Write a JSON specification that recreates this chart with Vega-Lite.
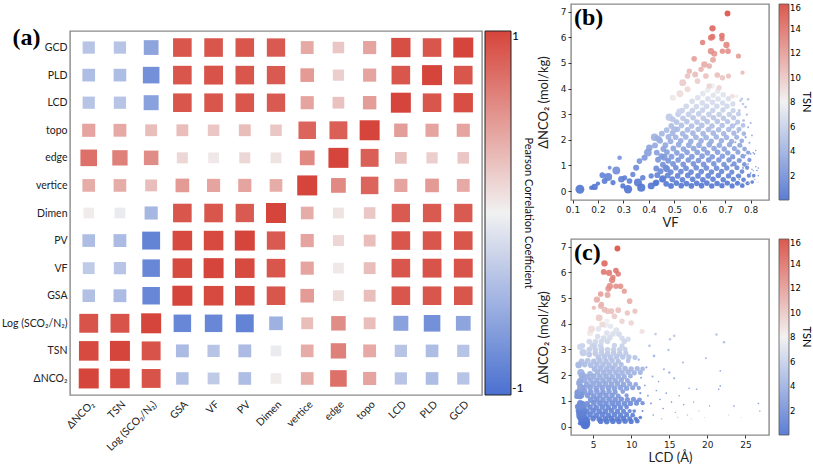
{
"$schema":"https://vega.github.io/schema/vega-lite/v6.json",
"padding":{"left":0,"top":3,"right":0,"bottom":0},
"background":"white",
"config":{"view":{"stroke":"#8a8a8a","strokeWidth":1.4},"font":"Lato","axis":{"labelColor":"#222","titleColor":"#222","tickColor":"#333","labelOverlap":false}},
"spacing":0,
"resolve":{"scale":{"color":"independent","size":"independent"},"legend":{"color":"independent","size":"independent"}},
"datasets":{
"corr":[
{"col":"ΔNCO₂","row":"GCD","r":-0.35},{"col":"TSN","row":"GCD","r":-0.35},{"col":"Log (SCO₂/N₂)","row":"GCD","r":-0.6},{"col":"GSA","row":"GCD","r":0.9},{"col":"VF","row":"GCD","r":0.9},{"col":"PV","row":"GCD","r":0.9},{"col":"Dimen","row":"GCD","r":0.88},{"col":"vertice","row":"GCD","r":0.42},{"col":"edge","row":"GCD","r":0.25},{"col":"topo","row":"GCD","r":0.45},{"col":"LCD","row":"GCD","r":0.95},{"col":"PLD","row":"GCD","r":0.9},{"col":"GCD","row":"GCD","r":1.0},
{"col":"ΔNCO₂","row":"PLD","r":-0.4},{"col":"TSN","row":"PLD","r":-0.4},{"col":"Log (SCO₂/N₂)","row":"PLD","r":-0.75},{"col":"GSA","row":"PLD","r":0.9},{"col":"VF","row":"PLD","r":0.92},{"col":"PV","row":"PLD","r":0.9},{"col":"Dimen","row":"PLD","r":0.88},{"col":"vertice","row":"PLD","r":0.5},{"col":"edge","row":"PLD","r":0.2},{"col":"topo","row":"PLD","r":0.45},{"col":"LCD","row":"PLD","r":0.9},{"col":"PLD","row":"PLD","r":1.0},{"col":"GCD","row":"PLD","r":0.9},
{"col":"ΔNCO₂","row":"LCD","r":-0.35},{"col":"TSN","row":"LCD","r":-0.35},{"col":"Log (SCO₂/N₂)","row":"LCD","r":-0.62},{"col":"GSA","row":"LCD","r":0.9},{"col":"VF","row":"LCD","r":0.9},{"col":"PV","row":"LCD","r":0.9},{"col":"Dimen","row":"LCD","r":0.88},{"col":"vertice","row":"LCD","r":0.45},{"col":"edge","row":"LCD","r":0.28},{"col":"topo","row":"LCD","r":0.48},{"col":"LCD","row":"LCD","r":1.0},{"col":"PLD","row":"LCD","r":0.9},{"col":"GCD","row":"LCD","r":0.95},
{"col":"ΔNCO₂","row":"topo","r":0.45},{"col":"TSN","row":"topo","r":0.42},{"col":"Log (SCO₂/N₂)","row":"topo","r":0.3},{"col":"GSA","row":"topo","r":0.3},{"col":"VF","row":"topo","r":0.25},{"col":"PV","row":"topo","r":0.3},{"col":"Dimen","row":"topo","r":0.25},{"col":"vertice","row":"topo","r":0.82},{"col":"edge","row":"topo","r":0.85},{"col":"topo","row":"topo","r":1.0},{"col":"LCD","row":"topo","r":0.48},{"col":"PLD","row":"topo","r":0.45},{"col":"GCD","row":"topo","r":0.45},
{"col":"ΔNCO₂","row":"edge","r":0.75},{"col":"TSN","row":"edge","r":0.65},{"col":"Log (SCO₂/N₂)","row":"edge","r":0.58},{"col":"GSA","row":"edge","r":0.15},{"col":"VF","row":"edge","r":0.05},{"col":"PV","row":"edge","r":0.15},{"col":"Dimen","row":"edge","r":0.08},{"col":"vertice","row":"edge","r":0.6},{"col":"edge","row":"edge","r":1.0},{"col":"topo","row":"edge","r":0.85},{"col":"LCD","row":"edge","r":0.28},{"col":"PLD","row":"edge","r":0.2},{"col":"GCD","row":"edge","r":0.25},
{"col":"ΔNCO₂","row":"vertice","r":0.4},{"col":"TSN","row":"vertice","r":0.4},{"col":"Log (SCO₂/N₂)","row":"vertice","r":0.3},{"col":"GSA","row":"vertice","r":0.5},{"col":"VF","row":"vertice","r":0.45},{"col":"PV","row":"vertice","r":0.45},{"col":"Dimen","row":"vertice","r":0.4},{"col":"vertice","row":"vertice","r":1.0},{"col":"edge","row":"vertice","r":0.6},{"col":"topo","row":"vertice","r":0.82},{"col":"LCD","row":"vertice","r":0.45},{"col":"PLD","row":"vertice","r":0.5},{"col":"GCD","row":"vertice","r":0.42},
{"col":"ΔNCO₂","row":"Dimen","r":0.03},{"col":"TSN","row":"Dimen","r":-0.05},{"col":"Log (SCO₂/N₂)","row":"Dimen","r":-0.45},{"col":"GSA","row":"Dimen","r":0.9},{"col":"VF","row":"Dimen","r":0.9},{"col":"PV","row":"Dimen","r":0.88},{"col":"Dimen","row":"Dimen","r":1.0},{"col":"vertice","row":"Dimen","r":0.4},{"col":"edge","row":"Dimen","r":0.08},{"col":"topo","row":"Dimen","r":0.25},{"col":"LCD","row":"Dimen","r":0.88},{"col":"PLD","row":"Dimen","r":0.88},{"col":"GCD","row":"Dimen","r":0.88},
{"col":"ΔNCO₂","row":"PV","r":-0.4},{"col":"TSN","row":"PV","r":-0.42},{"col":"Log (SCO₂/N₂)","row":"PV","r":-0.85},{"col":"GSA","row":"PV","r":0.97},{"col":"VF","row":"PV","r":0.97},{"col":"PV","row":"PV","r":1.0},{"col":"Dimen","row":"PV","r":0.88},{"col":"vertice","row":"PV","r":0.45},{"col":"edge","row":"PV","r":0.15},{"col":"topo","row":"PV","r":0.3},{"col":"LCD","row":"PV","r":0.9},{"col":"PLD","row":"PV","r":0.9},{"col":"GCD","row":"PV","r":0.9},
{"col":"ΔNCO₂","row":"VF","r":-0.3},{"col":"TSN","row":"VF","r":-0.35},{"col":"Log (SCO₂/N₂)","row":"VF","r":-0.82},{"col":"GSA","row":"VF","r":0.97},{"col":"VF","row":"VF","r":1.0},{"col":"PV","row":"VF","r":0.97},{"col":"Dimen","row":"VF","r":0.9},{"col":"vertice","row":"VF","r":0.45},{"col":"edge","row":"VF","r":0.05},{"col":"topo","row":"VF","r":0.3},{"col":"LCD","row":"VF","r":0.9},{"col":"PLD","row":"VF","r":0.92},{"col":"GCD","row":"VF","r":0.92},
{"col":"ΔNCO₂","row":"GSA","r":-0.38},{"col":"TSN","row":"GSA","r":-0.42},{"col":"Log (SCO₂/N₂)","row":"GSA","r":-0.82},{"col":"GSA","row":"GSA","r":1.0},{"col":"VF","row":"GSA","r":0.97},{"col":"PV","row":"GSA","r":0.97},{"col":"Dimen","row":"GSA","r":0.9},{"col":"vertice","row":"GSA","r":0.5},{"col":"edge","row":"GSA","r":0.12},{"col":"topo","row":"GSA","r":0.3},{"col":"LCD","row":"GSA","r":0.9},{"col":"PLD","row":"GSA","r":0.9},{"col":"GCD","row":"GSA","r":0.9},
{"col":"ΔNCO₂","row":"Log (SCO₂/N₂)","r":0.92},{"col":"TSN","row":"Log (SCO₂/N₂)","r":0.92},{"col":"Log (SCO₂/N₂)","row":"Log (SCO₂/N₂)","r":1.0},{"col":"GSA","row":"Log (SCO₂/N₂)","r":-0.82},{"col":"VF","row":"Log (SCO₂/N₂)","r":-0.82},{"col":"PV","row":"Log (SCO₂/N₂)","r":-0.85},{"col":"Dimen","row":"Log (SCO₂/N₂)","r":-0.5},{"col":"vertice","row":"Log (SCO₂/N₂)","r":0.3},{"col":"edge","row":"Log (SCO₂/N₂)","r":0.58},{"col":"topo","row":"Log (SCO₂/N₂)","r":0.3},{"col":"LCD","row":"Log (SCO₂/N₂)","r":-0.62},{"col":"PLD","row":"Log (SCO₂/N₂)","r":-0.75},{"col":"GCD","row":"Log (SCO₂/N₂)","r":-0.6},
{"col":"ΔNCO₂","row":"TSN","r":0.97},{"col":"TSN","row":"TSN","r":1.0},{"col":"Log (SCO₂/N₂)","row":"TSN","r":0.92},{"col":"GSA","row":"TSN","r":-0.42},{"col":"VF","row":"TSN","r":-0.35},{"col":"PV","row":"TSN","r":-0.42},{"col":"Dimen","row":"TSN","r":-0.05},{"col":"vertice","row":"TSN","r":0.4},{"col":"edge","row":"TSN","r":0.65},{"col":"topo","row":"TSN","r":0.42},{"col":"LCD","row":"TSN","r":-0.35},{"col":"PLD","row":"TSN","r":-0.4},{"col":"GCD","row":"TSN","r":-0.35},
{"col":"ΔNCO₂","row":"ΔNCO₂","r":1.0},{"col":"TSN","row":"ΔNCO₂","r":0.97},{"col":"Log (SCO₂/N₂)","row":"ΔNCO₂","r":0.92},{"col":"GSA","row":"ΔNCO₂","r":-0.38},{"col":"VF","row":"ΔNCO₂","r":-0.3},{"col":"PV","row":"ΔNCO₂","r":-0.4},{"col":"Dimen","row":"ΔNCO₂","r":0.03},{"col":"vertice","row":"ΔNCO₂","r":0.4},{"col":"edge","row":"ΔNCO₂","r":0.75},{"col":"topo","row":"ΔNCO₂","r":0.45},{"col":"LCD","row":"ΔNCO₂","r":-0.35},{"col":"PLD","row":"ΔNCO₂","r":-0.4},{"col":"GCD","row":"ΔNCO₂","r":-0.35}
],
"mofs":[
{"v":0.129,"l":4.0,"n":0.07,"t":0.3,"s":3.0},{"v":0.187,"l":3.6,"n":0.16,"t":0.4,"s":1.5},{"v":0.174,"l":3.3,"n":0.13,"t":0.3,"s":0.8},{"v":0.217,"l":3.4,"n":0.62,"t":1.2,"s":1.2},{"v":0.226,"l":3.2,"n":0.39,"t":0.8,"s":1.3},{"v":0.24,"l":3.3,"n":0.55,"t":1.2,"s":2.4},{"v":0.259,"l":3.5,"n":0.33,"t":0.7,"s":1.0},{"v":0.272,"l":3.3,"n":0.8,"t":1.8,"s":2.3},{"v":0.285,"l":3.6,"n":1.3,"t":2.2,"s":0.8},{"v":0.292,"l":3.4,"n":0.46,"t":0.9,"s":1.6},{"v":0.305,"l":3.7,"n":0.52,"t":1.0,"s":1.0},{"v":0.318,"l":3.9,"n":0.07,"t":0.2,"s":2.6},{"v":0.324,"l":3.5,"n":0.39,"t":0.8,"s":1.2},{"v":0.337,"l":3.8,"n":0.65,"t":1.3,"s":1.0},{"v":0.35,"l":3.3,"n":0.91,"t":1.7,"s":1.4},{"v":0.357,"l":3.5,"n":0.33,"t":0.6,"s":2.4},{"v":0.37,"l":4.1,"n":0.13,"t":0.3,"s":2.5},{"v":0.363,"l":3.3,"n":1.17,"t":2.1,"s":1.2},{"v":0.383,"l":3.0,"n":1.3,"t":2.4,"s":1.4},{"v":0.396,"l":3.4,"n":1.5,"t":3.0,"s":2.3},{"v":0.402,"l":3.2,"n":1.69,"t":3.1,"s":1.6},{"v":0.422,"l":3.4,"n":2.1,"t":3.9,"s":2.0},{"v":0.44,"l":3.7,"n":2.0,"t":3.6,"s":1.3},{"v":0.376,"l":3.6,"n":0.52,"t":1.0,"s":1.1},{"v":0.409,"l":3.9,"n":0.59,"t":1.1,"s":1.0},{"v":0.246,"l":3.7,"n":0.91,"t":1.8,"s":0.6},{"v":0.2,"l":3.5,"n":0.29,"t":0.5,"s":0.7},{"v":0.298,"l":3.8,"n":0.2,"t":0.4,"s":1.0},{"v":0.409,"l":4.1,"n":0.2,"t":0.4,"s":1.8},{"v":0.429,"l":3.9,"n":0.33,"t":0.6,"s":1.5},{"v":0.46,"l":3.0,"n":1.32,"t":2.4,"s":1.8},{"v":0.48,"l":3.7,"n":2.88,"t":5.6,"s":2.0},{"v":0.455,"l":3.26,"n":0.48,"t":0.9,"s":1.8},{"v":0.47,"l":3.48,"n":0.87,"t":1.6,"s":1.7},{"v":0.5,"l":3.1,"n":2.4,"t":4.6,"s":1.6},{"v":0.52,"l":3.3,"n":3.1,"t":6.2,"s":1.5},
{"v":0.709,"l":8.2,"n":6.93,"t":15.6,"s":1.3},{"v":0.65,"l":6.5,"n":6.35,"t":14.5,"s":1.5},{"v":0.65,"l":6.4,"n":6.02,"t":13.8,"s":1.3},{"v":0.644,"l":7.1,"n":5.98,"t":13.6,"s":1.4},{"v":0.687,"l":8.0,"n":6.07,"t":13.9,"s":1.2},{"v":0.687,"l":8.3,"n":5.94,"t":13.5,"s":1.1},{"v":0.611,"l":7.6,"n":5.8,"t":13.2,"s":1.1},{"v":0.705,"l":7.5,"n":5.7,"t":13.0,"s":1.5},{"v":0.644,"l":7.2,"n":5.46,"t":12.6,"s":1.5},{"v":0.657,"l":7.0,"n":5.36,"t":12.3,"s":1.4},{"v":0.689,"l":8.0,"n":5.46,"t":12.5,"s":1.1},{"v":0.711,"l":8.6,"n":5.46,"t":12.5,"s":1.2},{"v":0.752,"l":9.1,"n":5.27,"t":12.0,"s":1.0},{"v":0.578,"l":6.0,"n":5.16,"t":11.8,"s":1.2},{"v":0.652,"l":6.9,"n":5.12,"t":11.6,"s":1.3},{"v":0.618,"l":5.5,"n":4.94,"t":11.3,"s":1.5},{"v":0.637,"l":9.8,"n":4.88,"t":11.1,"s":1.2},{"v":0.605,"l":6.1,"n":4.75,"t":10.9,"s":1.1},{"v":0.582,"l":6.5,"n":4.55,"t":10.5,"s":1.3},{"v":0.624,"l":7.4,"n":4.49,"t":10.3,"s":1.2},{"v":0.669,"l":8.3,"n":4.53,"t":10.4,"s":1.2},{"v":0.689,"l":9.5,"n":4.42,"t":10.1,"s":1.1},{"v":0.713,"l":10.5,"n":4.49,"t":10.2,"s":1.0},{"v":0.768,"l":5.1,"n":4.62,"t":10.6,"s":0.7},{"v":0.552,"l":6.9,"n":4.49,"t":10.2,"s":1.2},{"v":0.533,"l":5.8,"n":4.23,"t":9.8,"s":1.8},{"v":0.522,"l":4.8,"n":3.8,"t":9.0,"s":1.8},{"v":0.552,"l":6.2,"n":3.97,"t":9.2,"s":1.3},{"v":0.591,"l":7.8,"n":4.29,"t":9.8,"s":1.2},{"v":0.637,"l":8.8,"n":4.1,"t":9.4,"s":1.1},{"v":0.676,"l":10.0,"n":4.03,"t":9.3,"s":1.1},{"v":0.559,"l":6.0,"n":4.68,"t":10.7,"s":1.1},{"v":0.494,"l":4.6,"n":3.64,"t":8.5,"s":1.4},{"v":0.728,"l":11.4,"n":3.7,"t":8.8,"s":0.9},
{"v":0.765,"l":13.2,"n":3.6,"t":5.6,"s":0.3},{"v":0.77,"l":15.1,"n":3.4,"t":5.2,"s":0.25},{"v":0.76,"l":15.65,"n":3.53,"t":5.4,"s":0.3},{"v":0.79,"l":21.2,"n":3.58,"t":5.1,"s":0.25},{"v":0.78,"l":22.2,"n":3.28,"t":4.7,"s":0.25},{"v":0.755,"l":12.4,"n":3.14,"t":5.0,"s":0.3},{"v":0.745,"l":11.6,"n":3.7,"t":8.2,"s":0.5},{"v":0.772,"l":13.0,"n":2.75,"t":4.1,"s":0.25},{"v":0.785,"l":14.9,"n":2.98,"t":4.4,"s":0.2},{"v":0.79,"l":16.8,"n":2.49,"t":3.6,"s":0.15},{"v":0.8,"l":19.8,"n":2.66,"t":3.9,"s":0.15},{"v":0.805,"l":21.7,"n":2.17,"t":3.1,"s":0.12},{"v":0.78,"l":15.0,"n":2.1,"t":3.1,"s":0.2},{"v":0.795,"l":15.65,"n":1.88,"t":2.8,"s":0.15},{"v":0.775,"l":14.3,"n":2.23,"t":3.3,"s":0.15},{"v":0.81,"l":17.6,"n":1.49,"t":2.2,"s":0.1},{"v":0.8,"l":18.6,"n":1.45,"t":2.2,"s":0.1},{"v":0.815,"l":21.5,"n":1.45,"t":2.0,"s":0.1},{"v":0.82,"l":21.7,"n":1.58,"t":2.3,"s":0.1},{"v":0.825,"l":23.5,"n":0.8,"t":1.3,"s":0.1},{"v":0.83,"l":26.7,"n":0.9,"t":1.4,"s":0.08},{"v":0.83,"l":26.9,"n":0.6,"t":1.0,"s":0.08},
{"v":0.74,"l":11.3,"n":1.9,"t":3.0,"s":0.15},{"v":0.75,"l":11.8,"n":1.6,"t":2.6,"s":0.12},{"v":0.76,"l":12.2,"n":1.2,"t":2.0,"s":0.12},{"v":0.77,"l":12.6,"n":0.9,"t":1.5,"s":0.12},{"v":0.745,"l":11.5,"n":0.6,"t":1.1,"s":0.15},{"v":0.755,"l":12.9,"n":0.45,"t":1.8,"s":0.1},{"v":0.78,"l":13.3,"n":1.4,"t":2.2,"s":0.1},{"v":0.79,"l":13.8,"n":1.05,"t":1.8,"s":0.1},{"v":0.8,"l":14.2,"n":0.7,"t":1.3,"s":0.1},{"v":0.765,"l":13.6,"n":1.75,"t":2.8,"s":0.1},{"v":0.775,"l":14.6,"n":1.3,"t":2.1,"s":0.1},{"v":0.785,"l":15.3,"n":0.95,"t":1.7,"s":0.1},{"v":0.81,"l":15.8,"n":0.55,"t":3.5,"s":0.08},{"v":0.795,"l":16.3,"n":1.2,"t":2.0,"s":0.08},{"v":0.805,"l":16.9,"n":0.85,"t":1.5,"s":0.08},{"v":0.815,"l":17.4,"n":0.45,"t":4.5,"s":0.08},{"v":0.82,"l":18.2,"n":0.95,"t":1.7,"s":0.08},{"v":0.8,"l":18.9,"n":0.6,"t":5.0,"s":0.08},{"v":0.825,"l":19.6,"n":0.35,"t":6.0,"s":0.06},{"v":0.81,"l":20.3,"n":0.8,"t":1.5,"s":0.06},{"v":0.82,"l":22.8,"n":0.45,"t":6.0,"s":0.06},{"v":0.83,"l":24.4,"n":0.35,"t":6.5,"s":0.06},{"v":0.79,"l":17.9,"n":0.3,"t":6.0,"s":0.06},{"v":0.775,"l":16.1,"n":0.35,"t":5.5,"s":0.08},{"v":0.76,"l":14.0,"n":0.3,"t":5.0,"s":0.1},{"v":0.75,"l":12.0,"n":2.3,"t":3.6,"s":0.2},{"v":0.765,"l":12.8,"n":1.95,"t":3.2,"s":0.15},{"v":0.74,"l":11.0,"n":2.6,"t":4.2,"s":0.2},{"v":0.735,"l":11.2,"n":1.3,"t":2.2,"s":0.2},{"v":0.725,"l":10.8,"n":1.0,"t":1.8,"s":0.3},
{"v":0.426,"l":3.4,"n":0.3,"t":0.6,"s":1.3},{"v":0.433,"l":3.1,"n":0.62,"t":1.2,"s":1.3},{"v":0.429,"l":4.2,"n":0.88,"t":1.7,"s":1.3},{"v":0.436,"l":3.0,"n":1.22,"t":2.3,"s":1.3},{"v":0.431,"l":3.8,"n":1.5,"t":2.9,"s":1.3},{"v":0.424,"l":3.3,"n":1.78,"t":3.4,"s":1.3},{"v":0.435,"l":4.6,"n":2.05,"t":3.9,"s":1.3},
{"v":0.452,"l":3.8,"n":0.45,"t":0.9,"s":1.3},{"v":0.446,"l":3.0,"n":0.77,"t":1.5,"s":1.3},{"v":0.455,"l":4.7,"n":1.03,"t":2.0,"s":1.3},{"v":0.449,"l":3.2,"n":1.36,"t":2.6,"s":1.3},{"v":0.457,"l":4.2,"n":1.64,"t":3.1,"s":1.3},{"v":0.444,"l":3.5,"n":1.96,"t":3.7,"s":1.3},{"v":0.451,"l":5.2,"n":2.24,"t":4.3,"s":1.3},
{"v":0.468,"l":4.2,"n":0.28,"t":0.5,"s":1.25},{"v":0.474,"l":3.4,"n":0.61,"t":1.2,"s":1.25},{"v":0.466,"l":5.1,"n":0.92,"t":1.8,"s":1.25},{"v":0.476,"l":2.9,"n":1.18,"t":2.2,"s":1.25},{"v":0.471,"l":4.6,"n":1.52,"t":2.9,"s":1.25},{"v":0.465,"l":3.9,"n":1.79,"t":3.4,"s":1.25},{"v":0.477,"l":5.6,"n":2.11,"t":4.0,"s":1.25},{"v":0.47,"l":3.1,"n":2.38,"t":4.5,"s":1.25},
{"v":0.487,"l":4.0,"n":0.2,"t":0.3,"s":1.25},{"v":0.492,"l":4.6,"n":0.46,"t":0.9,"s":1.25},{"v":0.486,"l":3.8,"n":0.74,"t":1.4,"s":1.25},{"v":0.495,"l":5.5,"n":1.06,"t":2.0,"s":1.25},{"v":0.489,"l":3.1,"n":1.34,"t":2.6,"s":1.25},{"v":0.496,"l":5.0,"n":1.66,"t":3.2,"s":1.25},{"v":0.485,"l":4.3,"n":1.94,"t":3.7,"s":1.25},{"v":0.493,"l":6.0,"n":2.26,"t":4.3,"s":1.25},{"v":0.488,"l":3.5,"n":2.54,"t":4.8,"s":1.25},{"v":0.494,"l":4.5,"n":2.8,"t":5.3,"s":1.25},
{"v":0.508,"l":5.0,"n":0.31,"t":0.6,"s":1.2},{"v":0.513,"l":4.2,"n":0.59,"t":1.1,"s":1.2},{"v":0.506,"l":5.9,"n":0.91,"t":1.7,"s":1.2},{"v":0.515,"l":3.5,"n":1.21,"t":2.3,"s":1.2},{"v":0.51,"l":5.4,"n":1.49,"t":2.8,"s":1.2},{"v":0.517,"l":4.7,"n":1.81,"t":3.4,"s":1.2},{"v":0.505,"l":6.4,"n":2.1,"t":4.0,"s":1.2},{"v":0.512,"l":3.9,"n":2.41,"t":4.6,"s":1.2},{"v":0.509,"l":5.7,"n":2.69,"t":5.1,"s":1.2},{"v":0.515,"l":4.5,"n":3.0,"t":5.7,"s":1.2},
{"v":0.527,"l":6.0,"n":0.21,"t":0.4,"s":1.2},{"v":0.532,"l":5.4,"n":0.44,"t":0.8,"s":1.2},{"v":0.526,"l":4.6,"n":0.76,"t":1.4,"s":1.2},{"v":0.535,"l":6.3,"n":1.04,"t":2.0,"s":1.2},{"v":0.529,"l":3.9,"n":1.36,"t":2.6,"s":1.2},{"v":0.536,"l":5.8,"n":1.64,"t":3.1,"s":1.2},{"v":0.525,"l":5.1,"n":1.96,"t":3.7,"s":1.2},{"v":0.533,"l":6.8,"n":2.24,"t":4.3,"s":1.2},{"v":0.528,"l":4.3,"n":2.56,"t":4.9,"s":1.2},{"v":0.534,"l":5.3,"n":2.84,"t":5.4,"s":1.2},{"v":0.531,"l":3.6,"n":3.14,"t":6.0,"s":1.2},
{"v":0.548,"l":5.8,"n":0.29,"t":0.6,"s":1.2},{"v":0.553,"l":5.0,"n":0.61,"t":1.2,"s":1.2},{"v":0.546,"l":6.7,"n":0.89,"t":1.7,"s":1.2},{"v":0.555,"l":4.3,"n":1.21,"t":2.3,"s":1.2},{"v":0.55,"l":6.2,"n":1.51,"t":2.9,"s":1.2},{"v":0.557,"l":5.5,"n":1.79,"t":3.4,"s":1.2},{"v":0.545,"l":7.2,"n":2.11,"t":4.0,"s":1.2},{"v":0.552,"l":4.7,"n":2.39,"t":4.5,"s":1.2},{"v":0.549,"l":6.5,"n":2.71,"t":5.1,"s":1.2},{"v":0.556,"l":5.3,"n":2.99,"t":5.7,"s":1.2},{"v":0.547,"l":4.5,"n":3.31,"t":6.3,"s":1.2},
{"v":0.567,"l":6.8,"n":0.2,"t":0.4,"s":1.2},{"v":0.572,"l":6.2,"n":0.46,"t":0.9,"s":1.2},{"v":0.566,"l":5.4,"n":0.74,"t":1.4,"s":1.2},{"v":0.575,"l":7.1,"n":1.06,"t":2.0,"s":1.2},{"v":0.569,"l":4.7,"n":1.34,"t":2.5,"s":1.2},{"v":0.576,"l":6.6,"n":1.66,"t":3.2,"s":1.2},{"v":0.565,"l":5.9,"n":1.94,"t":3.7,"s":1.2},{"v":0.573,"l":7.6,"n":2.26,"t":4.3,"s":1.2},{"v":0.568,"l":5.1,"n":2.54,"t":4.8,"s":1.2},{"v":0.574,"l":6.1,"n":2.86,"t":5.4,"s":1.2},{"v":0.571,"l":4.9,"n":3.14,"t":6.0,"s":1.2},{"v":0.57,"l":5.6,"n":3.5,"t":6.7,"s":1.2},
{"v":0.588,"l":6.6,"n":0.3,"t":0.6,"s":1.2},{"v":0.593,"l":5.8,"n":0.59,"t":1.1,"s":1.2},{"v":0.586,"l":7.5,"n":0.91,"t":1.7,"s":1.2},{"v":0.595,"l":5.1,"n":1.19,"t":2.3,"s":1.2},{"v":0.59,"l":7.0,"n":1.51,"t":2.9,"s":1.2},{"v":0.597,"l":6.3,"n":1.79,"t":3.4,"s":1.2},{"v":0.585,"l":8.0,"n":2.1,"t":4.0,"s":1.2},{"v":0.594,"l":5.5,"n":2.41,"t":4.6,"s":1.2},{"v":0.589,"l":7.3,"n":2.69,"t":5.1,"s":1.2},{"v":0.596,"l":6.1,"n":3.01,"t":5.7,"s":1.2},{"v":0.587,"l":5.3,"n":3.3,"t":6.3,"s":1.2},{"v":0.592,"l":6.8,"n":3.64,"t":6.9,"s":1.2},
{"v":0.607,"l":7.6,"n":0.21,"t":0.4,"s":1.2},{"v":0.612,"l":7.0,"n":0.44,"t":0.8,"s":1.2},{"v":0.606,"l":6.2,"n":0.76,"t":1.4,"s":1.2},{"v":0.615,"l":7.9,"n":1.04,"t":2.0,"s":1.2},{"v":0.609,"l":5.5,"n":1.36,"t":2.6,"s":1.2},{"v":0.616,"l":7.4,"n":1.64,"t":3.1,"s":1.2},{"v":0.605,"l":6.7,"n":1.96,"t":3.7,"s":1.2},{"v":0.613,"l":8.4,"n":2.24,"t":4.3,"s":1.2},{"v":0.608,"l":5.9,"n":2.56,"t":4.9,"s":1.2},{"v":0.614,"l":6.9,"n":2.84,"t":5.4,"s":1.2},{"v":0.611,"l":5.2,"n":3.16,"t":6.0,"s":1.2},{"v":0.61,"l":6.4,"n":3.44,"t":6.5,"s":1.2},{"v":0.612,"l":5.7,"n":3.8,"t":7.2,"s":1.2},
{"v":0.628,"l":7.4,"n":0.31,"t":0.6,"s":1.2},{"v":0.633,"l":6.6,"n":0.59,"t":1.1,"s":1.2},{"v":0.626,"l":8.3,"n":0.9,"t":1.7,"s":1.2},{"v":0.635,"l":5.9,"n":1.21,"t":2.3,"s":1.2},{"v":0.63,"l":7.8,"n":1.49,"t":2.8,"s":1.2},{"v":0.637,"l":7.1,"n":1.81,"t":3.4,"s":1.2},{"v":0.625,"l":8.8,"n":2.09,"t":4.0,"s":1.2},{"v":0.634,"l":6.3,"n":2.4,"t":4.6,"s":1.2},{"v":0.629,"l":8.1,"n":2.71,"t":5.1,"s":1.2},{"v":0.636,"l":6.9,"n":2.99,"t":5.7,"s":1.2},{"v":0.627,"l":6.1,"n":3.31,"t":6.3,"s":1.2},{"v":0.632,"l":7.6,"n":3.6,"t":6.8,"s":1.2},{"v":0.631,"l":6.6,"n":3.95,"t":7.5,"s":1.2},
{"v":0.647,"l":8.4,"n":0.2,"t":0.4,"s":1.15},{"v":0.652,"l":7.8,"n":0.46,"t":0.9,"s":1.15},{"v":0.646,"l":7.0,"n":0.74,"t":1.4,"s":1.15},{"v":0.655,"l":8.7,"n":1.06,"t":2.0,"s":1.15},{"v":0.649,"l":6.3,"n":1.34,"t":2.5,"s":1.15},{"v":0.656,"l":8.2,"n":1.66,"t":3.2,"s":1.15},{"v":0.645,"l":7.5,"n":1.94,"t":3.7,"s":1.15},{"v":0.653,"l":9.2,"n":2.26,"t":4.3,"s":1.15},{"v":0.648,"l":6.7,"n":2.54,"t":4.8,"s":1.15},{"v":0.654,"l":7.7,"n":2.86,"t":5.4,"s":1.15},{"v":0.651,"l":6.0,"n":3.14,"t":6.0,"s":1.15},{"v":0.65,"l":7.2,"n":3.46,"t":6.6,"s":1.15},{"v":0.653,"l":8.0,"n":3.74,"t":7.1,"s":1.15},{"v":0.649,"l":6.8,"n":4.1,"t":7.8,"s":1.15},
{"v":0.668,"l":8.2,"n":0.29,"t":0.6,"s":1.15},{"v":0.673,"l":7.4,"n":0.61,"t":1.2,"s":1.15},{"v":0.666,"l":9.1,"n":0.89,"t":1.7,"s":1.15},{"v":0.675,"l":6.7,"n":1.21,"t":2.3,"s":1.15},{"v":0.67,"l":8.6,"n":1.51,"t":2.9,"s":1.15},{"v":0.677,"l":7.9,"n":1.79,"t":3.4,"s":1.15},{"v":0.665,"l":9.6,"n":2.11,"t":4.0,"s":1.15},{"v":0.674,"l":7.1,"n":2.39,"t":4.5,"s":1.15},{"v":0.669,"l":8.9,"n":2.71,"t":5.1,"s":1.15},{"v":0.676,"l":7.7,"n":2.99,"t":5.7,"s":1.15},{"v":0.667,"l":6.9,"n":3.31,"t":6.3,"s":1.15},{"v":0.672,"l":8.4,"n":3.59,"t":6.8,"s":1.15},{"v":0.67,"l":7.3,"n":3.9,"t":7.4,"s":1.15},
{"v":0.687,"l":9.2,"n":0.21,"t":0.4,"s":1.1},{"v":0.692,"l":8.6,"n":0.44,"t":0.8,"s":1.1},{"v":0.686,"l":7.8,"n":0.76,"t":1.4,"s":1.1},{"v":0.695,"l":9.5,"n":1.04,"t":2.0,"s":1.1},{"v":0.689,"l":7.1,"n":1.36,"t":2.6,"s":1.1},{"v":0.696,"l":9.0,"n":1.64,"t":3.1,"s":1.1},{"v":0.685,"l":8.3,"n":1.96,"t":3.7,"s":1.1},{"v":0.694,"l":10.0,"n":2.24,"t":4.3,"s":1.1},{"v":0.688,"l":7.5,"n":2.56,"t":4.9,"s":1.1},{"v":0.693,"l":8.5,"n":2.84,"t":5.4,"s":1.1},{"v":0.691,"l":7.8,"n":3.16,"t":6.0,"s":1.1},{"v":0.69,"l":8.8,"n":3.44,"t":6.5,"s":1.1},{"v":0.692,"l":8.1,"n":3.76,"t":7.1,"s":1.1},
{"v":0.708,"l":9.0,"n":0.31,"t":0.6,"s":1.1},{"v":0.713,"l":8.2,"n":0.59,"t":1.1,"s":1.1},{"v":0.706,"l":9.9,"n":0.9,"t":1.7,"s":1.1},{"v":0.715,"l":7.5,"n":1.21,"t":2.3,"s":1.1},{"v":0.71,"l":9.4,"n":1.49,"t":2.8,"s":1.1},{"v":0.717,"l":8.7,"n":1.81,"t":3.4,"s":1.1},{"v":0.705,"l":10.4,"n":2.09,"t":4.0,"s":1.1},{"v":0.714,"l":7.9,"n":2.4,"t":4.6,"s":1.1},{"v":0.709,"l":9.7,"n":2.71,"t":5.1,"s":1.1},{"v":0.716,"l":8.5,"n":2.99,"t":5.7,"s":1.1},{"v":0.707,"l":9.1,"n":3.31,"t":6.3,"s":1.1},{"v":0.712,"l":8.4,"n":3.6,"t":6.8,"s":1.1},
{"v":0.727,"l":10.0,"n":0.2,"t":0.4,"s":1.0},{"v":0.732,"l":9.4,"n":0.46,"t":0.9,"s":1.0},{"v":0.726,"l":8.6,"n":0.74,"t":1.4,"s":1.0},{"v":0.735,"l":10.3,"n":1.06,"t":2.0,"s":1.0},{"v":0.729,"l":7.9,"n":1.34,"t":2.5,"s":1.0},{"v":0.736,"l":9.8,"n":1.66,"t":3.2,"s":1.0},{"v":0.725,"l":9.1,"n":1.94,"t":3.7,"s":1.0},{"v":0.734,"l":10.8,"n":2.26,"t":4.3,"s":1.0},{"v":0.728,"l":8.3,"n":2.54,"t":4.8,"s":1.0},{"v":0.733,"l":9.3,"n":2.86,"t":5.4,"s":1.0},{"v":0.731,"l":8.8,"n":3.14,"t":6.0,"s":1.0},{"v":0.73,"l":9.6,"n":3.4,"t":6.5,"s":1.0},
{"v":0.748,"l":9.8,"n":0.3,"t":0.6,"s":0.95},{"v":0.753,"l":9.0,"n":0.59,"t":1.1,"s":0.95},{"v":0.746,"l":10.7,"n":0.91,"t":1.7,"s":0.95},{"v":0.755,"l":8.3,"n":1.19,"t":2.3,"s":0.95},{"v":0.75,"l":10.2,"n":1.51,"t":2.9,"s":0.95},{"v":0.757,"l":9.5,"n":1.79,"t":3.4,"s":0.95},{"v":0.745,"l":11.2,"n":2.1,"t":4.0,"s":0.95},{"v":0.754,"l":8.7,"n":2.41,"t":4.6,"s":0.95},{"v":0.749,"l":10.5,"n":2.69,"t":5.1,"s":0.95},{"v":0.752,"l":9.2,"n":3.01,"t":5.7,"s":0.95},
{"v":0.767,"l":10.8,"n":0.21,"t":0.4,"s":0.85},{"v":0.772,"l":10.2,"n":0.44,"t":0.8,"s":0.85},{"v":0.766,"l":9.4,"n":0.76,"t":1.4,"s":0.85},{"v":0.775,"l":11.1,"n":1.04,"t":2.0,"s":0.85},{"v":0.769,"l":8.9,"n":1.36,"t":2.6,"s":0.85},{"v":0.776,"l":10.6,"n":1.64,"t":3.1,"s":0.85},{"v":0.765,"l":9.9,"n":1.96,"t":3.7,"s":0.85},{"v":0.773,"l":11.5,"n":2.24,"t":4.3,"s":0.85},{"v":0.77,"l":9.6,"n":2.56,"t":4.9,"s":0.85},
{"v":0.788,"l":10.6,"n":0.3,"t":0.6,"s":0.7},{"v":0.793,"l":9.8,"n":0.6,"t":1.1,"s":0.7},{"v":0.786,"l":11.5,"n":0.91,"t":1.7,"s":0.7},{"v":0.795,"l":9.4,"n":1.21,"t":2.3,"s":0.7},{"v":0.79,"l":11.0,"n":1.5,"t":2.8,"s":0.7},
{"v":0.806,"l":11.2,"n":0.35,"t":0.7,"s":0.5},{"v":0.812,"l":10.4,"n":0.6,"t":1.1,"s":0.5}
]
},
"hconcat":[
{
"spacing":0,
"resolve":{"scale":{"color":"independent","size":"independent"},"legend":{"color":"independent","size":"independent"}},
"vconcat":[
{
"width":412,"height":20,
"view":{"stroke":null},
"data":{"values":[]},
"mark":{"type":"point"},
"encoding":{}
},
{
"width":412,"height":364,
"data":{"name":"corr"},
"transform":[{"calculate":"abs(datum.r)","as":"ar"}],
"mark":{"type":"square","opacity":1},
"encoding":{
"x":{"field":"col","type":"nominal","sort":["ΔNCO₂","TSN","Log (SCO₂/N₂)","GSA","VF","PV","Dimen","vertice","edge","topo","LCD","PLD","GCD"],"scale":{"padding":0.6},"axis":{"title":null,"labelAngle":-45,"labelAlign":"right","labelBaseline":"top","labelPadding":4,"ticks":false,"domain":false,"labelFontSize":10.5,"labelFont":"Lato"}},
"y":{"field":"row","type":"nominal","sort":["GCD","PLD","LCD","topo","edge","vertice","Dimen","PV","VF","GSA","Log (SCO₂/N₂)","TSN","ΔNCO₂"],"scale":{"padding":0.6},"axis":{"title":"(a)","titleAngle":0,"titleX":-58,"titleY":-6,"titleAlign":"left","titleBaseline":"top","titleFont":"Liberation Serif","titleFontSize":24,"titleFontWeight":"bold","titleColor":"#000","ticks":false,"domain":false,"labelPadding":3,"labelFontSize":10.5,"labelFont":"Lato"}},
"color":{"field":"r","type":"quantitative","scale":{"domain":[-1,0,1],"range":["#4a70d0","#f1f1f1","#d6453b"],"interpolate":"rgb"},"legend":{"title":"Pearson Correlation Coefficient","orient":"right","offset":3,"direction":"vertical","gradientLength":364,"gradientThickness":26,"values":[-1,1],"labelExpr":"datum.value > 0 ? '1' : '-1'","labelFontSize":12,"labelFont":"Lato","labelColor":"#000","labelOffset":1,"labelOverlap":false,"titleOrient":"right","titleAngle":90,"titleAnchor":"middle","titleFontSize":11,"titleFont":"Lato","titleFontWeight":"normal","titleColor":"#111","titlePadding":0,"gradientStrokeColor":"#222","gradientStrokeWidth":1}},
"size":{"field":"ar","type":"quantitative","scale":{"type":"pow","exponent":2,"domain":[0,1],"range":[115,400]},"legend":null}
}
}
]
},
{
"spacing":8,
"resolve":{"scale":{"color":"independent","size":"independent"},"legend":{"color":"independent","size":"independent"}},
"vconcat":[
{
"width":198,"height":196,
"title":{"text":"(b)","anchor":"start","frame":"group","orient":"top","font":"Liberation Serif","fontSize":24,"fontWeight":"bold","color":"#000","offset":-26,"dx":3},
"data":{"name":"mofs"},
"mark":{"type":"circle","opacity":0.9},
"encoding":{
"x":{"field":"v","type":"quantitative","scale":{"domain":[0.094,0.872],"nice":false,"zero":false},"axis":{"title":"VF","values":[0.1,0.2,0.3,0.4,0.5,0.6,0.7,0.8],"format":".1f","grid":false,"domain":false,"tickSize":3,"labelFontSize":9,"labelFont":"DejaVu Sans","labelPadding":2,"labelOverlap":false,"titleFont":"Lato","titleFontSize":13,"titleFontWeight":"normal","titlePadding":2}},
"y":{"field":"n","type":"quantitative","scale":{"domain":[-0.35,7.3],"nice":false,"zero":false},"axis":{"title":"ΔNCO₂ (mol/kg)","values":[0,1,2,3,4,5,6,7],"grid":false,"domain":false,"tickSize":3,"labelFontSize":9,"labelFont":"DejaVu Sans","labelPadding":2,"labelOverlap":false,"titleFont":"Lato","titleFontSize":13,"titleFontWeight":"normal","titlePadding":10}},
"color":{"field":"t","type":"quantitative","scale":{"domain":[0,8,16],"range":["#4a70d0","#f1f1f1","#d8473c"],"interpolate":"rgb"},"legend":{"title":"TSN","orient":"right","offset":10,"direction":"vertical","gradientLength":196,"gradientThickness":10,"values":[2,4,6,8,10,12,14,16],"labelFontSize":8.5,"labelFont":"DejaVu Sans","labelOffset":1,"labelOverlap":false,"titleOrient":"right","titleAngle":90,"titleAnchor":"middle","titleFontSize":11,"titleFont":"Lato","titleFontWeight":"normal","titlePadding":0,"gradientStrokeColor":"#444","gradientStrokeWidth":0.8}},
"size":{"field":"s","type":"quantitative","scale":{"domain":[0,3],"range":[0,80]},"legend":null},
"order":{"field":"t","type":"quantitative","sort":"ascending"}
}
},
{
"width":198,"height":196,
"title":{"text":"(c)","anchor":"start","frame":"group","orient":"top","font":"Liberation Serif","fontSize":24,"fontWeight":"bold","color":"#000","offset":-26,"dx":3},
"data":{"name":"mofs"},
"mark":{"type":"circle","opacity":0.9},
"encoding":{
"x":{"field":"l","type":"quantitative","scale":{"domain":[2.1,28.1],"nice":false,"zero":false},"axis":{"title":"LCD (Å)","values":[5,10,15,20,25],"format":"d","grid":false,"domain":false,"tickSize":3,"labelFontSize":9,"labelFont":"DejaVu Sans","labelPadding":2,"labelOverlap":false,"titleFont":"Lato","titleFontSize":13,"titleFontWeight":"normal","titlePadding":2}},
"y":{"field":"n","type":"quantitative","scale":{"domain":[-0.33,7.3],"nice":false,"zero":false},"axis":{"title":"ΔNCO₂ (mol/kg)","values":[0,1,2,3,4,5,6,7],"grid":false,"domain":false,"tickSize":3,"labelFontSize":9,"labelFont":"DejaVu Sans","labelPadding":2,"labelOverlap":false,"titleFont":"Lato","titleFontSize":13,"titleFontWeight":"normal","titlePadding":10}},
"color":{"field":"t","type":"quantitative","scale":{"domain":[0,8,16],"range":["#4a70d0","#f1f1f1","#d8473c"],"interpolate":"rgb"},"legend":{"title":"TSN","orient":"right","offset":10,"direction":"vertical","gradientLength":196,"gradientThickness":10,"values":[2,4,6,8,10,12,14,16],"labelFontSize":8.5,"labelFont":"DejaVu Sans","labelOffset":1,"labelOverlap":false,"titleOrient":"right","titleAngle":90,"titleAnchor":"middle","titleFontSize":11,"titleFont":"Lato","titleFontWeight":"normal","titlePadding":0,"gradientStrokeColor":"#444","gradientStrokeWidth":0.8}},
"size":{"field":"s","type":"quantitative","scale":{"domain":[0,3],"range":[0,80]},"legend":null},
"order":{"field":"t","type":"quantitative","sort":"ascending"}
}
}
]
}
]
}
